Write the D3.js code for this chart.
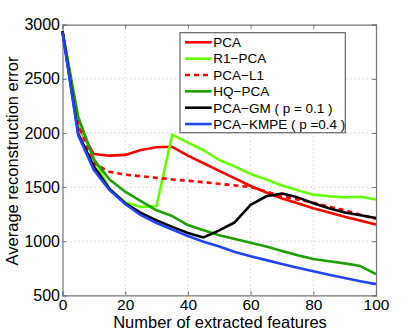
<!DOCTYPE html>
<html><head><meta charset="utf-8">
<script src="https://cdn.jsdelivr.net/npm/d3@7"></script>
<style>body{margin:0;background:#fff}svg{display:block}text{font-family:"Liberation Sans",Arial,sans-serif}</style>
</head><body>
<svg id="c" width="415" height="332"></svg>
<script>
const features = [0,5,10,15,20,25,30,35,40,45,50,55,60,65,70,75,80,85,90,95,100];
const pca     = [2940,2060,1805,1790,1797,1842,1868,1872,1790,1720,1650,1580,1510,1450,1395,1350,1305,1265,1225,1190,1155];
const r1pca   = [2940,2100,1760,1480,1360,1315,1325,1985,1910,1840,1750,1690,1620,1570,1515,1470,1430,1415,1405,1410,1385];
const pcaL1   = [2940,2080,1720,1640,1615,1600,1585,1570,1558,1545,1530,1515,1500,1460,1415,1385,1355,1320,1285,1245,1205];
const hqpca   = [2940,2150,1755,1570,1457,1370,1285,1232,1149,1100,1055,1020,985,950,910,870,835,815,795,770,695];
const pcaGM   = [2940,1995,1690,1482,1350,1262,1192,1132,1075,1035,1100,1175,1335,1415,1440,1405,1350,1305,1265,1240,1215];
const kmpe    = [2930,1980,1657,1472,1343,1240,1168,1108,1047,995,950,900,860,825,790,755,722,690,660,630,603];
const seriesNames = ["PCA","R1\u2212PCA","PCA\u2212L1","HQ\u2212PCA","PCA\u2212GM ( p = 0.1 )","PCA\u2212KMPE ( p =0.4 )"];
const xTicks = [0,20,40,60,80,100];
const yTicks = [500,1000,1500,2000,2500,3000];

const series = [
  {name:seriesNames[0], v:pca,   color:"#ff0000", dash:null},
  {name:seriesNames[1], v:r1pca, color:"#66ff00", dash:null},
  {name:seriesNames[2], v:pcaL1, color:"#ff0000", dash:"5,4"},
  {name:seriesNames[3], v:hqpca, color:"#1f9f00", dash:null},
  {name:seriesNames[4], v:pcaGM, color:"#000000", dash:null},
  {name:seriesNames[5], v:kmpe,  color:"#2244ff", dash:null}
];

const svg = d3.select("#c");
const L=62.5, R=376, T=24.7, B=295.3;
const x = d3.scaleLinear().domain([0,100]).range([L,R]);
const y = d3.scaleLinear().domain([500,3000]).range([B,T]);

// grid
const g = svg.append("g");
g.selectAll(".gx").data(xTicks.slice(1,-1)).enter().append("line")
 .attr("x1",d=>x(d)).attr("x2",d=>x(d)).attr("y1",T).attr("y2",B)
 .attr("stroke","#bbb").attr("stroke-width",1).attr("stroke-dasharray","1,3");
g.selectAll(".gy").data(yTicks.slice(1,-1)).enter().append("line")
 .attr("y1",d=>y(d)).attr("y2",d=>y(d)).attr("x1",L).attr("x2",R)
 .attr("stroke","#bbb").attr("stroke-width",1).attr("stroke-dasharray","1,3");

// axes
const xb = svg.append("g").attr("transform",`translate(0,${B})`)
 .call(d3.axisBottom(x).tickValues(xTicks).tickSize(-4).tickPadding(4).tickFormat(d3.format("d")));
const yl = svg.append("g").attr("transform",`translate(${L},0)`)
 .call(d3.axisLeft(y).tickValues(yTicks).tickSize(-4).tickPadding(2.5).tickFormat(d3.format("d")));
const xt = svg.append("g").attr("transform",`translate(0,${T})`)
 .call(d3.axisTop(x).tickValues(xTicks).tickSize(-4).tickFormat(""));
const yr = svg.append("g").attr("transform",`translate(${R},0)`)
 .call(d3.axisRight(y).tickValues(yTicks).tickSize(-4).tickFormat(""));
[xb,yl,xt,yr].forEach(a=>{
  a.selectAll("path").attr("stroke","#777").attr("stroke-width",1.2);
  a.selectAll("line").attr("stroke","#777");
  a.selectAll("text").attr("fill","#000").style("font-family","'Liberation Sans',Arial,sans-serif");
});
xb.selectAll("text").style("font-size","15.5px");
yl.selectAll("text").style("font-size","16px");

// lines
const line = d3.line().x((d,i)=>x(features[i])).y(d=>y(d));
svg.append("g").selectAll("path").data(series).enter().append("path")
 .attr("d",d=>line(d.v)).attr("fill","none").attr("stroke",d=>d.color)
 .attr("stroke-width",2.6).attr("stroke-dasharray",d=>d.dash).attr("stroke-linejoin","round");

// legend
const lg = svg.append("g");
lg.append("rect").attr("x",180).attr("y",32.7).attr("width",165.3).attr("height",100)
 .attr("fill","#fff").attr("stroke","#666").attr("stroke-width",1.2);
series.forEach((s,i)=>{
  const yy = 42.3 + i*16.35;
  lg.append("line").attr("x1",185).attr("x2",211.7).attr("y1",yy).attr("y2",yy)
    .attr("stroke",s.color).attr("stroke-width",2.6).attr("stroke-dasharray",s.dash);
  lg.append("text").attr("x",213.3).attr("y",yy+4.8).text(s.name).style("font-size","13.5px");
});

// labels
svg.append("text").attr("x",220).attr("y",328).attr("text-anchor","middle")
 .style("font-size","16.5px").text("Number of extracted features");
svg.append("text").attr("transform",`translate(18,${161}) rotate(-90)`).attr("text-anchor","middle")
 .style("font-size","16.5px").text("Average reconstruction error");
</script>
</body></html>
